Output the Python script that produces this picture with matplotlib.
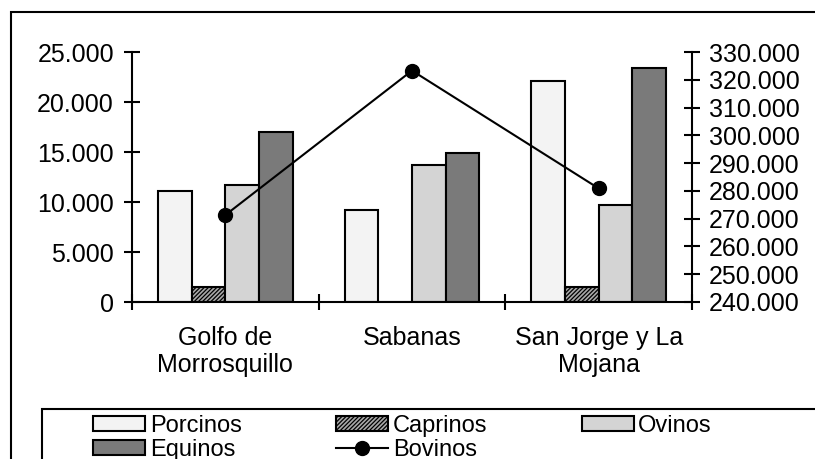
import matplotlib
matplotlib.use("Agg")
import matplotlib.pyplot as plt
from matplotlib.patches import Rectangle, Patch
from matplotlib.lines import Line2D
from matplotlib.ticker import FuncFormatter, FixedLocator
import numpy as np

plt.rcParams['font.family'] = ['Liberation Sans', 'DejaVu Sans']
plt.rcParams['hatch.linewidth'] = 0.9

categories = ["Golfo de\nMorrosquillo", "Sabanas", "San Jorge y La\nMojana"]
porcinos = [11100, 9200, 22150]
caprinos = [1550, 0, 1550]
ovinos = [11750, 13750, 9750]
equinos = [17050, 14950, 23450]
bovinos = [271300, 323300, 280900]

left_ticks = [0, 5000, 10000, 15000, 20000, 25000]
right_ticks = [240000, 250000, 260000, 270000, 280000, 290000, 300000, 310000, 320000, 330000]

W, H = 815, 459
fig = plt.figure(figsize=(W / 100, H / 100), dpi=100)

def fx(px):
    return px / W

def fy(py):
    return 1 - py / H

ax_l, ax_r, ax_t, ax_b = 132, 692, 52, 302
ax = fig.add_axes([fx(ax_l), fy(ax_b), fx(ax_r) - fx(ax_l), fy(ax_t) - fy(ax_b)])
ax.patch.set_alpha(0)

x = np.arange(len(categories))
bw = 0.18
series = [
    ("Porcinos", porcinos, dict(facecolor="#f3f3f3", hatch=None)),
    ("Caprinos", caprinos, dict(facecolor="#a8a8a8", hatch="////////")),
    ("Ovinos", ovinos, dict(facecolor="#d4d4d4", hatch=None)),
    ("Equinos", equinos, dict(facecolor="#7a7a7a", hatch=None)),
]
handles = {}
for i, (name, vals, st) in enumerate(series):
    off = (i - 1.5) * bw
    ax.bar(x + off, vals, width=bw, edgecolor="black", linewidth=1.5,
           facecolor=st["facecolor"], hatch=st["hatch"], zorder=2)
    handles[name] = Patch(facecolor=st["facecolor"], edgecolor="black",
                          linewidth=1.5, hatch=st["hatch"])

ax.set_xlim(-0.5, len(categories) - 0.5)
ax.set_ylim(0, 25000)
ax.spines['top'].set_visible(False)
for s in ['left', 'bottom', 'right']:
    ax.spines[s].set_linewidth(1.5)
ax.spines['right'].set_visible(False)

ax.yaxis.set_major_locator(FixedLocator(left_ticks))
fmt = FuncFormatter(lambda v, p: f"{int(v):,}".replace(",", "."))
ax.yaxis.set_major_formatter(fmt)
ax.tick_params(axis='y', direction='inout', length=12, width=1.5, labelsize=18, pad=7)

ax.set_xticks(np.arange(-0.5, len(categories), 1.0))
ax.set_xticklabels([])
ax.tick_params(axis='x', which='major', direction='inout', length=12, width=1.5)
ax.set_xticks(x, minor=True)
ax.set_xticklabels(categories, minor=True, fontsize=18, linespacing=1.2)
ax.tick_params(axis='x', which='minor', length=0, pad=17)

ax2 = ax.twinx()
ax2.set_position(ax.get_position())
ax2.plot(x, bovinos, color="black", linewidth=1.5, marker="o", markersize=10, zorder=5)
ax2.set_ylim(240000, 330000)
ax2.yaxis.set_major_locator(FixedLocator(right_ticks))
ax2.yaxis.set_major_formatter(fmt)
ax2.tick_params(axis='y', direction='inout', length=12, width=1.5, labelsize=18, pad=6)
for s in ['top', 'left', 'bottom']:
    ax2.spines[s].set_visible(False)
ax2.spines['right'].set_linewidth(1.5)
handles["Bovinos"] = Line2D([], [], color="black", linewidth=1.5, marker="o", markersize=10)

# outer frame
fig.patches.append(Rectangle((fx(11), fy(470)), 1.2, fy(12) - fy(470), transform=fig.transFigure,
                             fill=False, edgecolor="black", linewidth=1.5, zorder=0))
# legend frame
fig.patches.append(Rectangle((fx(42), fy(470)), 1.2, fy(409) - fy(470), transform=fig.transFigure,
                             fill=False, edgecolor="black", linewidth=1.5, zorder=0))

order = ["Porcinos", "Equinos", "Caprinos", "Bovinos", "Ovinos"]
leg = fig.legend([handles[k] for k in order], order, ncol=3, frameon=False,
                 loc="upper left", bbox_to_anchor=(fx(93), fy(415)),
                 borderaxespad=0, borderpad=0, fontsize=17,
                 handlelength=2.2, handleheight=0.6, handletextpad=0.2,
                 columnspacing=4.0, labelspacing=0.08)

fig.savefig("out.png", dpi=100)
